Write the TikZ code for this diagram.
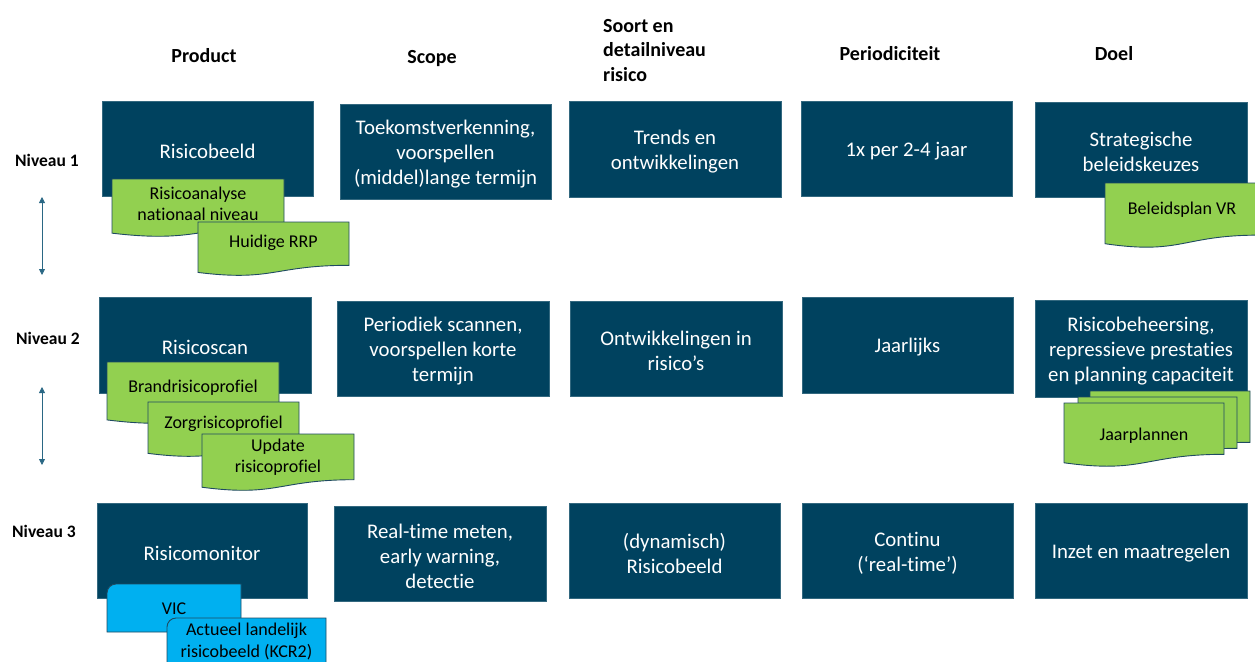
\documentclass[tikz,border=0pt]{standalone}
\usepackage{fontspec}
\setmainfont{Carlito}[Ligatures={NoCommon,NoContextual}]
\usetikzlibrary{arrows.meta}
\definecolor{navy}{HTML}{00425F}
\definecolor{docgreen}{HTML}{92D050}
\definecolor{docblue}{HTML}{00B0F0}
\definecolor{docedge}{HTML}{1F4A62}
\definecolor{arrowcol}{HTML}{2A6784}
\tikzset{
  navybox/.style={fill=navy, draw=navy!80!white, line width=0.4pt, inner sep=0pt},
  navytext/.style={text=white, align=center, font=\fontsize{20.8}{25}\selectfont, inner sep=0pt},
  docline/.style={draw=docedge, line width=0.9pt},
  doctext/.style={align=center, text=black, font=\fontsize{18}{21.5}\selectfont, inner sep=0pt},
  header/.style={font=\fontsize{20}{24.5}\selectfont\bfseries, text=black, inner sep=0pt},
  nivlabel/.style={font=\fontsize{17.5}{21}\selectfont\bfseries, text=black, inner sep=0pt},
  nivarrow/.style={draw=arrowcol, line width=0.8pt, {Triangle[length=6pt,width=6pt]}-{Triangle[length=6pt,width=6pt]}}
}
% name, x0, y0, w, h, fill, text, text offset
\newcommand\docshape[8]{%
  \draw[docline, fill=#6] (#2,#3) -- ({#2+#4},#3) -- ({#2+#4},{#3+0.802*#5})
    .. controls ({#2+0.5*#4},{#3+0.802*#5}) and ({#2+0.5*#4},{#3+1.108*#5}) .. (#2,{#3+0.934*#5}) -- cycle;
  \node[doctext] (#1) at ({#2+0.5*#4},{#3+#8}) {#7};}
% name, x0, y0, x1, y1, text, text y
\newcommand\cornerbox[7]{%
  \draw[docline, fill=docblue] (#2,#5) [rounded corners=9pt] -- (#2,#3) [sharp corners] -- (#4,#3) -- (#4,#5) -- cycle;
  \node[doctext] (#1) at ({0.5*(#2+#4)},#7) {#6};}
\newcommand\nbox[6]{%
  \node[navybox, minimum width={(#4-#2)*1pt}, minimum height={(#5-#3)*1pt}] (#1) at ({0.5*(#2+#4)},{0.5*(#3+#5)}) {};
  \node[navytext] (#1t) at ({0.5*(#2+#4)},{0.5*(#3+#5)+2.5}) {#6};}
\begin{document}
\begin{tikzpicture}[x=1pt,y=-1pt]
\useasboundingbox (0,0) rectangle (1255,661);
% headers
\node[header] (hprod) at (204,56) {Product};
\node[header] (hscope) at (432,59) {Scope};
\node[header, align=left, anchor=west] (hsoort) at (603,50.5) {Soort en\\detailniveau\\risico};
\node[header] (hper) at (890,54) {Periodiciteit};
\node[header] (hdoel) at (1114,54) {Doel};
% level labels
\node[nivlabel] (n1) at (47,160) {Niveau 1};
\node[nivlabel] (n2) at (48,338) {Niveau 2};
\node[nivlabel] (n3) at (44,531) {Niveau 3};
\coordinate (a1t) at (42,197); \coordinate (a1b) at (42,275);
\coordinate (a2t) at (42,387); \coordinate (a2b) at (42,465);
\draw[nivarrow] (a1t) -- (a1b);
\draw[nivarrow] (a2t) -- (a2b);
% row 1
\nbox{b11}{102}{101}{313}{196}{Risicobeeld}
\nbox{b12}{340}{104}{551}{199}{Toekomstverkenning,\\voorspellen\\(middel)lange termijn}
\nbox{b13}{569}{101}{781}{197}{Trends en\\ontwikkelingen}
\nbox{b14}{801}{101}{1012}{196}{1x per 2-4 jaar}
\nbox{b15}{1035}{102}{1247}{197}{Strategische\\beleidskeuzes}
% row 2
\nbox{b21}{99}{297}{311}{393}{Risicoscan}
\nbox{b22}{337}{301}{549}{396}{Periodiek scannen,\\voorspellen korte\\termijn}
\nbox{b23}{570}{301}{782}{396}{Ontwikkelingen in\\risico’s}
\nbox{b24}{802}{297}{1013}{393}{Jaarlijks}
\nbox{b25}{1035}{300}{1247}{397}{Risicobeheersing,\\repressieve prestaties\\en planning capaciteit}
% row 3
\nbox{b31}{97}{503}{307}{598}{Risicomonitor}
\nbox{b32}{334}{506}{546}{601}{Real-time meten,\\early warning,\\detectie}
\nbox{b33}{569}{503}{780}{598}{(dynamisch)\\Risicobeeld}
\nbox{b34}{802}{503}{1013}{598}{Continu\\(‘real-time’)}
\nbox{b35}{1035}{503}{1247}{598}{Inzet en maatregelen}
% documents
\docshape{d1}{112}{179}{172}{58}{docgreen}{Risicoanalyse\\nationaal niveau}{25}
\docshape{d2}{198}{222}{151}{54}{docgreen}{Huidige RRP}{21}
\docshape{d3}{107}{362}{172}{62}{docgreen}{Brandrisicoprofiel}{26}
\docshape{d4}{148}{402}{151}{55}{docgreen}{Zorgrisicoprofiel}{22}
\docshape{d5}{202}{434}{152}{57}{docgreen}{Update\\risicoprofiel}{23}
\docshape{d6}{1105}{183}{154}{65}{docgreen}{Beleidsplan VR}{27}
\docshape{d7a}{1090}{391}{160}{64}{docgreen}{}{30}
\docshape{d7b}{1078}{397}{159}{64}{docgreen}{}{30}
\docshape{d7}{1064}{403}{160}{64}{docgreen}{Jaarplannen}{33}
% blue boxes
\cornerbox{c1}{107}{584}{241}{632}{VIC}{609}
\cornerbox{c2}{167}{618}{326}{680}{Actueel landelijk\\risicobeeld (KCR2)}{641.5}
\end{tikzpicture}
\end{document}
